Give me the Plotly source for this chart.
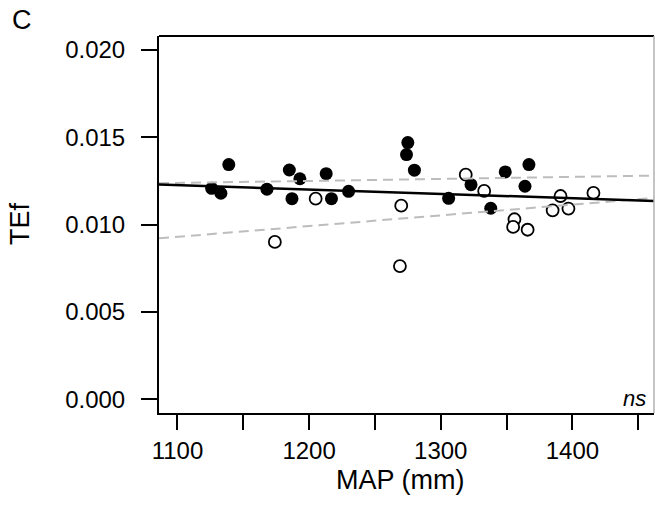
import plotly.graph_objects as go

# Filled points (group 1)
filled_map = [1126, 1133, 1139, 1168, 1185, 1193, 1187, 1213, 1217, 1230,
              1275, 1274, 1280, 1306, 1323, 1338, 1349, 1367, 1364]
filled_tef = [0.01208, 0.01180, 0.01344, 0.01203, 0.01313, 0.01263, 0.01149, 0.01292, 0.01149, 0.01191,
              0.01470, 0.01401, 0.01312, 0.01151, 0.01229, 0.01094, 0.01302, 0.01344, 0.01220]

# Open points (group 2)
open_map = [1205, 1174, 1270, 1269, 1319, 1333, 1356, 1355, 1366, 1391, 1385, 1397, 1416]
open_tef = [0.01149, 0.00901, 0.01109, 0.00763, 0.01286, 0.01193, 0.01031, 0.00987, 0.00971,
            0.01164, 0.01082, 0.01092, 0.01182]

# Regression lines (values at the axis ends)
line_x = [1086, 1462]
solid_y = [0.01230, 0.01136]
dash_up_y = [0.01237, 0.01281]
dash_lo_y = [0.00922, 0.01153]

x_tickvals = [1100, 1150, 1200, 1250, 1300, 1350, 1400, 1450]
x_ticktext = ["1100", "", "1200", "", "1300", "", "1400", ""]
y_tickvals = [0.000, 0.005, 0.010, 0.015, 0.020]
y_ticktext = ["0.000", "0.005", "0.010", "0.015", "0.020"]

FONT = "Liberation Sans, Arial, sans-serif"

fig = go.Figure()
fig.add_trace(go.Scatter(x=filled_map, y=filled_tef, mode="markers",
                         marker=dict(size=13, color="black", line=dict(width=0)),
                         showlegend=False))
fig.add_trace(go.Scatter(x=open_map, y=open_tef, mode="markers",
                         marker=dict(size=12, color="white", line=dict(width=1.8, color="black")),
                         showlegend=False))
fig.add_trace(go.Scatter(x=line_x, y=dash_up_y, mode="lines",
                         line=dict(color="#bdbdbd", width=2, dash="10px,6px"), showlegend=False))
fig.add_trace(go.Scatter(x=line_x, y=dash_lo_y, mode="lines",
                         line=dict(color="#bdbdbd", width=2, dash="10px,6px"), showlegend=False))
fig.add_trace(go.Scatter(x=line_x, y=solid_y, mode="lines",
                         line=dict(color="black", width=2.5), showlegend=False))

fig.update_layout(
    width=655, height=510,
    margin=dict(l=159, r=1, t=36, b=97),
    paper_bgcolor="white", plot_bgcolor="white",
    font=dict(family=FONT, color="black"),
    xaxis=dict(range=[1086, 1462], tickvals=x_tickvals, ticktext=x_ticktext,
               ticks="outside", ticklen=15, tickwidth=2, tickcolor="black",
               showgrid=False, zeroline=False, showline=True, linecolor="black", linewidth=2,
               tickfont=dict(size=24, family=FONT), ticklabelstandoff=0),
    yaxis=dict(range=[-0.00078, 0.0208], tickvals=y_tickvals, ticktext=y_ticktext,
               ticks="outside", ticklen=16, tickwidth=2, tickcolor="black",
               showgrid=False, zeroline=False, showline=True, linecolor="black", linewidth=2,
               tickfont=dict(size=24, family=FONT), ticklabelstandoff=11),
    shapes=[
        dict(type="line", xref="paper", yref="paper", x0=0, x1=1, y0=1, y1=1,
             line=dict(color="black", width=2)),
        dict(type="line", xref="paper", yref="paper", x0=1, x1=1, y0=0, y1=1,
             line=dict(color="#b0b0b0", width=1.5)),
    ],
    annotations=[
        dict(text="MAP (mm)", xref="paper", yref="paper", x=(400 - 159) / 495, y=(413 - 480) / 377,
             showarrow=False, font=dict(size=27, family=FONT), xanchor="center", yanchor="middle"),
        dict(text="TEf", xref="paper", yref="paper", x=(20 - 159) / 495, y=(413 - 224) / 377,
             showarrow=False, textangle=-90, font=dict(size=27, family=FONT),
             xanchor="center", yanchor="middle"),
        dict(text="C", xref="paper", yref="paper", x=(22 - 159) / 495, y=(413 - 20) / 377,
             showarrow=False, font=dict(size=27, family=FONT), xanchor="center", yanchor="middle"),
        dict(text="<i>ns</i>", xref="paper", yref="paper", x=(648 - 159) / 495, y=(413 - 398) / 377,
             showarrow=False, font=dict(size=22, family=FONT), xanchor="right", yanchor="middle"),
    ],
)

fig.write_html("out.html")
